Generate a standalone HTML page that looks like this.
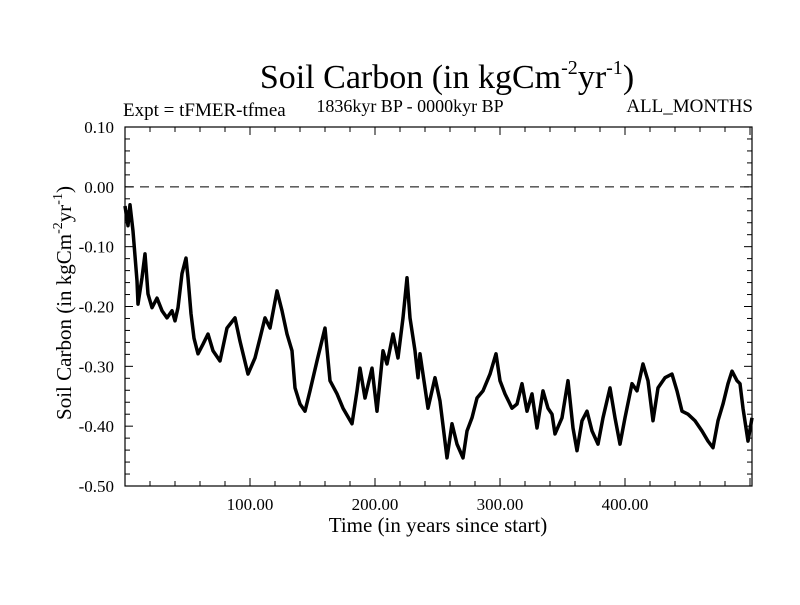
<!DOCTYPE html>
<html><head><meta charset="utf-8"><style>
body{margin:0;background:#fff;}
svg text{font-family:"Liberation Serif",serif;fill:#000;}
</style></head><body>
<svg width="800" height="600" viewBox="0 0 800 600">
<rect width="800" height="600" fill="#fff"/>
<text x="447" y="88" font-size="34" text-anchor="middle">Soil Carbon (in kgCm<tspan font-size="20" dy="-14">-2</tspan><tspan dy="14">yr</tspan><tspan font-size="20" dy="-14">-1</tspan><tspan dy="14">)</tspan></text>
<text x="410" y="112" font-size="18" text-anchor="middle">1836kyr BP - 0000kyr BP</text>
<text x="123" y="116" font-size="19">Expt = tFMER-tfmea</text>
<text x="753" y="112" font-size="19" text-anchor="end">ALL_MONTHS</text>
<text transform="translate(71,303) rotate(-90)" font-size="21" text-anchor="middle">Soil Carbon (in kgCm<tspan font-size="14" dy="-9">-2</tspan><tspan dy="9">yr</tspan><tspan font-size="14" dy="-9">-1</tspan><tspan dy="9">)</tspan></text>
<text x="438" y="532" font-size="21" text-anchor="middle">Time (in years since start)</text>
<g id="axes"></g>
<g id="series"></g>
<rect x="125" y="127" width="627" height="359" fill="none" stroke="#000" stroke-width="1.2"/>
</svg>
<script>
const years=[0,2.4,4,6.4,9.6,10.4,13.6,16,18.4,21.6,25.6,29.6,33.6,37.6,40,42.4,45.6,48.8,50.4,52.8,55.2,58.4,62.4,66.4,70.4,76,81.6,88,92,98.4,104,108,112,116,121.6,125.6,129.6,133.6,136,140,144,148,153.6,160,164,169.6,174.4,181.6,185.6,188,192,197.6,201.6,206.4,209.6,214.4,218.4,222.4,225.6,228,232,234.4,236,242.4,248,252,257.6,261.6,265.6,270.4,273.6,277.6,281.6,286.4,292,296.8,300,304,309.6,313.6,317.6,321.6,325.6,329.6,334.4,338.4,341.6,344,349.6,354.4,358.4,361.6,365.6,369.6,373.6,378.4,382.4,388,392,396,400,405.6,409.6,414.4,418.4,422.4,426.4,432,437.6,441.6,445.6,450.4,456,461.6,466.4,470.4,474.4,478.4,482.4,485.6,489.6,492,494.4,498.4,501.6];
const values=[-0.032,-0.065,-0.03,-0.074,-0.157,-0.196,-0.152,-0.112,-0.179,-0.202,-0.186,-0.207,-0.219,-0.207,-0.224,-0.202,-0.145,-0.119,-0.152,-0.212,-0.253,-0.279,-0.263,-0.246,-0.274,-0.291,-0.236,-0.219,-0.258,-0.313,-0.286,-0.253,-0.219,-0.236,-0.174,-0.207,-0.246,-0.274,-0.336,-0.363,-0.375,-0.341,-0.291,-0.236,-0.324,-0.346,-0.370,-0.396,-0.341,-0.303,-0.353,-0.303,-0.375,-0.274,-0.296,-0.246,-0.286,-0.219,-0.152,-0.219,-0.274,-0.319,-0.279,-0.370,-0.319,-0.358,-0.453,-0.396,-0.430,-0.453,-0.408,-0.386,-0.353,-0.341,-0.313,-0.279,-0.324,-0.346,-0.370,-0.363,-0.329,-0.375,-0.346,-0.403,-0.341,-0.370,-0.380,-0.413,-0.386,-0.324,-0.403,-0.441,-0.391,-0.375,-0.408,-0.430,-0.386,-0.336,-0.386,-0.430,-0.386,-0.329,-0.341,-0.296,-0.324,-0.391,-0.336,-0.319,-0.313,-0.341,-0.375,-0.380,-0.391,-0.408,-0.425,-0.436,-0.391,-0.363,-0.329,-0.308,-0.324,-0.329,-0.370,-0.425,-0.386];
const yTicks=[0.10,0.00,-0.10,-0.20,-0.30,-0.40,-0.50];
const yTickLabels=["0.10","0.00","-0.10","-0.20","-0.30","-0.40","-0.50"];
const xTicks=[100,200,300,400];
const xTickLabels=["100.00","200.00","300.00","400.00"];
const NS="http://www.w3.org/2000/svg";
const X0=125,X1=752,Y0=127,Y1=486,XMIN=0,XMAX=501.6,YMIN=-0.5,YMAX=0.1;
function sx(v){return X0+(v-XMIN)/(XMAX-XMIN)*(X1-X0);}
function sy(v){return Y1-(v-YMIN)/(YMAX-YMIN)*(Y1-Y0);}
const ax=document.getElementById('axes');
function line(x1,y1,x2,y2,name,extra){const l=document.createElementNS(NS,'line');l.setAttribute('x1',x1);l.setAttribute('y1',y1);l.setAttribute('x2',x2);l.setAttribute('y2',y2);l.setAttribute('stroke','#000');l.setAttribute('stroke-width','1');if(extra)l.setAttribute('stroke-dasharray',extra);


ax.appendChild(l);}
function text(x,y,s,anchor,name){const t=document.createElementNS(NS,'text');t.setAttribute('x',x);t.setAttribute('y',y);t.setAttribute('font-size','17');t.setAttribute('text-anchor',anchor);t.textContent=s;


ax.appendChild(t);}
for(let v=-0.5;v<=0.1001;v+=0.02){const y=sy(v);const major=Math.abs(Math.round(v*10)-v*10)<1e-6;const L=major?8:5;line(X0,y,X0+L,y,'y-tick');line(X1-L,y,X1,y,'y-tick-right');}
yTicks.forEach((v,i)=>text(114,sy(v)+6,yTickLabels[i],'end','y-tick-label'));
for(let v=20;v<XMAX;v+=20){const x=sx(v);const major=v%100===0;const L=major?8:5;line(x,Y1,x,Y1-L,'x-tick');line(x,Y0,x,Y0+L,'x-tick-top');}
xTicks.forEach((v,i)=>text(sx(v),510,xTickLabels[i],'middle','x-tick-label'));
line(X0,sy(0),X1,sy(0),'zero-line','9,6');
const p=document.createElementNS(NS,'polyline');
p.setAttribute('points',years.map((y,i)=>sx(y)+','+sy(values[i])).join(' '));
p.setAttribute('fill','none');p.setAttribute('stroke','#000');p.setAttribute('stroke-width','3.5');p.setAttribute('stroke-linejoin','round');


document.getElementById('series').appendChild(p);
</script>
</body></html>
